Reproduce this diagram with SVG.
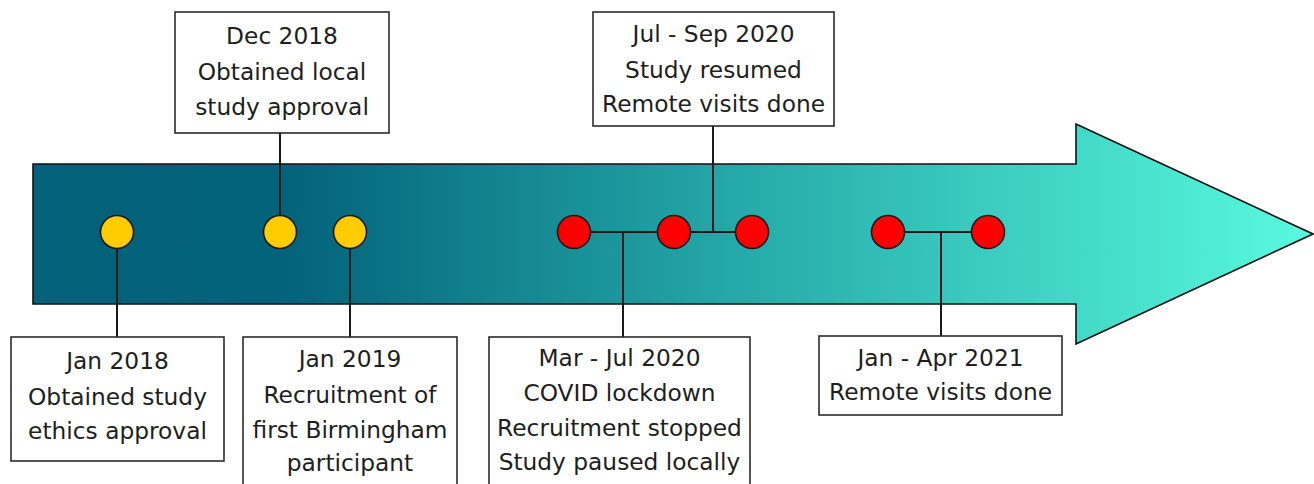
<svg xmlns="http://www.w3.org/2000/svg" width="1314" height="484" viewBox="0 0 1314 484">
  <defs>
    <linearGradient id="arrowFill" gradientUnits="userSpaceOnUse" x1="33" y1="0" x2="1313" y2="0">
      <stop offset="0" stop-color="#03617A"/>
      <stop offset="0.2" stop-color="#03637B"/>
      <stop offset="0.55" stop-color="#25A9A8"/>
      <stop offset="1" stop-color="#58FADE"/>
    </linearGradient>
  </defs>
  <style>
    .box { fill: #ffffff; stroke: #2b2b2b; stroke-width: 1.6; }
    .label { font-family: "DejaVu Sans", Verdana, sans-serif; font-size: 23.3px; fill: #1e1e1e; text-anchor: middle; }
    .link { stroke: #1a1a1a; stroke-width: 2; fill: none; }
    .past { fill: #FFCC00; stroke: #1a1a1a; stroke-width: 1.6; }
    .covid { fill: #FF0000; stroke: #1a1a1a; stroke-width: 1.6; }
  </style>

  <!-- timeline arrow -->
  <g id="timeline">
    <path d="M33,164 H1076 V124 L1313,234 L1076,344 V304 H33 Z" fill="url(#arrowFill)" stroke="#111" stroke-width="1.6" stroke-linejoin="miter"/>
  </g>

  <!-- connectors -->
  <g id="connectors">
    <line class="link" x1="117" y1="232" x2="117" y2="337"/>
    <line class="link" x1="280" y1="232" x2="280" y2="133"/>
    <line class="link" x1="350" y1="232" x2="350" y2="337"/>
    <line class="link" x1="574" y1="232" x2="752" y2="232"/>
    <line class="link" x1="623" y1="232" x2="623" y2="337"/>
    <line class="link" x1="713" y1="232" x2="713" y2="126"/>
    <line class="link" x1="888" y1="232" x2="988" y2="232"/>
    <line class="link" x1="941" y1="232" x2="941" y2="336"/>
  </g>

  <!-- event markers -->
  <g id="markers">
    <circle class="past" cx="117" cy="232" r="16.5"/>
    <circle class="past" cx="280" cy="232" r="16.5"/>
    <circle class="past" cx="350" cy="232" r="16.5"/>
    <circle class="covid" cx="574" cy="232" r="16.5"/>
    <circle class="covid" cx="674" cy="232" r="16.5"/>
    <circle class="covid" cx="752" cy="232" r="16.5"/>
    <circle class="covid" cx="888" cy="232" r="16.5"/>
    <circle class="covid" cx="988" cy="232" r="16.5"/>
  </g>

  <g id="dec2018">
    <rect class="box" x="175" y="12" width="214" height="121"/>
    <text class="label" x="282" y="44">Dec 2018</text>
    <text class="label" x="282" y="80">Obtained local</text>
    <text class="label" x="282" y="115">study approval</text>
  </g>

  <g id="julsep2020">
    <rect class="box" x="593" y="12" width="241" height="114"/>
    <text class="label" x="713.5" y="42">Jul - Sep 2020</text>
    <text class="label" x="713.5" y="78">Study resumed</text>
    <text class="label" x="713.5" y="112">Remote visits done</text>
  </g>

  <g id="jan2018">
    <rect class="box" x="11" y="337" width="213" height="124"/>
    <text class="label" x="117.5" y="369">Jan 2018</text>
    <text class="label" x="117.5" y="405">Obtained study</text>
    <text class="label" x="117.5" y="439">ethics approval</text>
  </g>

  <g id="jan2019">
    <rect class="box" x="243" y="337" width="214" height="160"/>
    <text class="label" x="350" y="367">Jan 2019</text>
    <text class="label" x="350" y="403">Recruitment of</text>
    <text class="label" x="350" y="438">first Birmingham</text>
    <text class="label" x="350" y="471">participant</text>
  </g>

  <g id="marjul2020">
    <rect class="box" x="489" y="337" width="261" height="160"/>
    <text class="label" x="619.5" y="366">Mar - Jul 2020</text>
    <text class="label" x="619.5" y="401">COVID lockdown</text>
    <text class="label" x="619.5" y="436">Recruitment stopped</text>
    <text class="label" x="619.5" y="470">Study paused locally</text>
  </g>

  <g id="janapr2021">
    <rect class="box" x="819" y="336" width="243" height="79"/>
    <text class="label" x="940.5" y="366">Jan - Apr 2021</text>
    <text class="label" x="940.5" y="400">Remote visits done</text>
  </g>
</svg>
